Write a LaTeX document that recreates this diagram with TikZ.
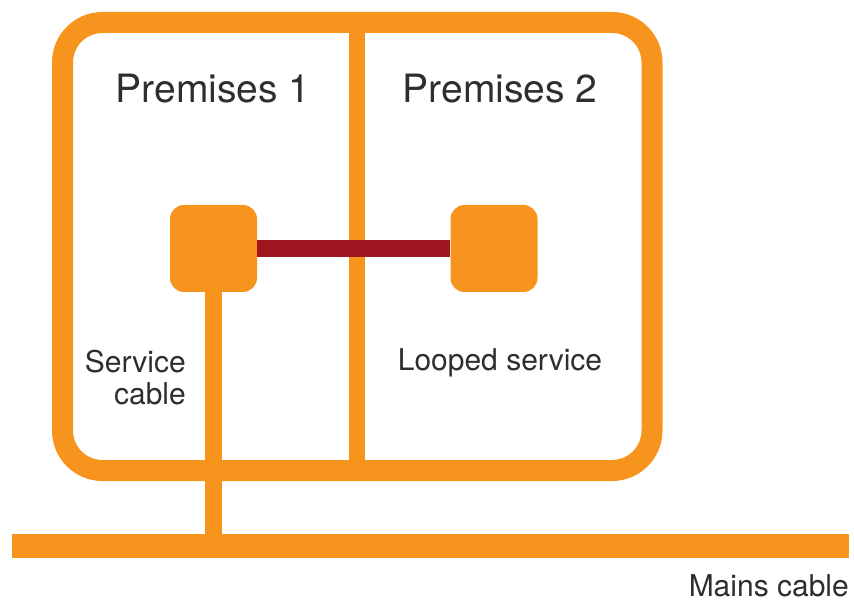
\documentclass[tikz,border=0pt]{standalone}
\usepackage{fontspec}
\setmainfont{TeX Gyre Heros}
\usetikzlibrary{positioning}
\definecolor{supply}{RGB}{247,148,29}
\definecolor{loop}{RGB}{158,22,32}
\definecolor{ink}{RGB}{45,45,50}

\begin{document}
\begin{tikzpicture}[x=1pt,y=-1pt,
  site/.style={draw=supply,line width=21pt,rounded corners=40pt,
               minimum width=589.5pt,minimum height=448pt,inner sep=0pt},
  meter/.style={fill=supply,rounded corners=14pt,minimum size=87pt,inner sep=0pt},
  cable/.style={draw=supply,line width=#1},
  link/.style={draw=loop,line width=17pt},
  title/.style={font=\fontsize{39}{47}\selectfont,text=ink,inner sep=0pt},
  note/.style={font=\fontsize{30}{32}\selectfont,text=ink,inner sep=0pt}
]
\useasboundingbox (0,0) rectangle (854,601);
% building outline with the party wall down the middle
\node[site] (site) at (357.25,246.5) {};
\draw[cable=16pt] (site.north) -- (site.south);
\node[title,anchor=base] (p1) at (213,103) {Premises 1};
\node[title,anchor=base] (p2) at (500,103) {Premises 2};
% meter positions
\node[meter] (lbox) at (213.5,248.5) {};
\node[meter] (rbox) at (494,248.5) {};
\draw[link] (lbox.east) -- (rbox.west);
% street main and the service feed
\coordinate (mainsL) at (12,546);
\coordinate (mainsR) at (849,546);
\draw[cable=24pt] (mainsL) -- (mainsR);
\draw[cable=17pt] (lbox.south) -- (lbox.south |- mainsL);
\node[note,anchor=north east,align=right] (svc) at (186,350) {Service\\cable};
\node[note,anchor=base] (lps) at (500,371) {Looped service};
\node[note,anchor=base east] (mns) at (849,596) {Mains cable};
\end{tikzpicture}
\end{document}
